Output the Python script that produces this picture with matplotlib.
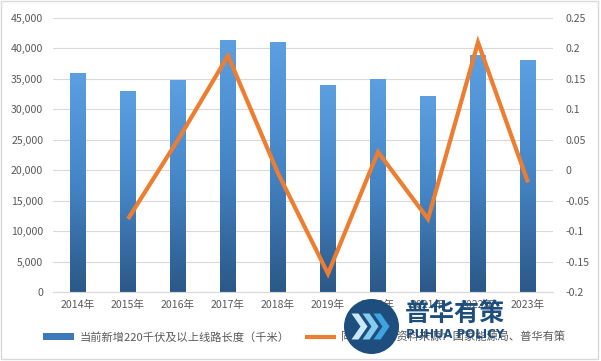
import matplotlib
matplotlib.use('Agg')
import matplotlib.pyplot as plt
import numpy as np
from matplotlib.patches import Circle, Polygon, Rectangle
from matplotlib.colors import LinearSegmentedColormap
from matplotlib.ticker import FuncFormatter, FixedLocator
from matplotlib.lines import Line2D

plt.rcParams['font.family'] = ['Noto Sans CJK SC', 'DejaVu Sans']

years = ['2014年', '2015年', '2016年', '2017年', '2018年',
         '2019年', '2020年', '2021年', '2022年', '2023年']
lengths = [36000, 33000, 34800, 41400, 41000, 34000, 35000, 32200, 39000, 38100]
growth = [np.nan, -0.08, 0.05, 0.188, -0.005, -0.17, 0.03, -0.08, 0.21, -0.02]
bar_label = '当前新增220千伏及以上线路长度（千米）'
line_label = '同比（%）资料来源：国家能源局、普华有策'
left_ticks = [0, 5000, 10000, 15000, 20000, 25000, 30000, 35000, 40000, 45000]
right_ticks = [-0.2, -0.15, -0.1, -0.05, 0, 0.05, 0.1, 0.15, 0.2, 0.25]

W, H = 601, 361
fig = plt.figure(figsize=(W / 100, H / 100), dpi=100)
ax = fig.add_axes([53 / W, 1 - 292 / H, 500 / W, 274 / H])

x = np.arange(len(years))
w = 0.32
cmap = LinearSegmentedColormap.from_list('g', ['#2B5887', '#4585C6', '#5CA0E2'])
grad = np.linspace(0, 1, 256).reshape(-1, 1)
bars = ax.bar(x, lengths, width=w, color='none', edgecolor='none', zorder=2)
for b in bars:
    im = ax.imshow(grad, cmap=cmap, origin='lower', aspect='auto',
                   extent=(b.get_x(), b.get_x() + b.get_width(), 0, b.get_height()),
                   zorder=2, interpolation='bilinear')
    im.set_clip_path(b)

ax.set_xlim(-0.5, len(years) - 0.5)
ax.set_ylim(0, 45000)
ax.set_xticks(x)
ax.set_xticklabels(years)
ax.yaxis.set_major_locator(FixedLocator(left_ticks))
ax.yaxis.set_major_formatter(FuncFormatter(lambda v, p: f'{int(v):,}'))
ax.grid(axis='y', color='#D9D9D9', lw=0.8)
ax.set_axisbelow(True)
for s in ['top', 'right', 'left']:
    ax.spines[s].set_visible(False)
ax.spines['bottom'].set_color('#D9D9D9')
ax.tick_params(axis='both', length=0, labelsize=7.6, colors='#595959')
ax.tick_params(axis='y', pad=7)
ax.tick_params(axis='x', pad=6)

ax2 = ax.twinx()
ln, = ax2.plot(x, growth, color='#ED7D31', lw=3, solid_joinstyle='miter',
               solid_capstyle='butt', zorder=3)
ax2.set_ylim(-0.2, 0.25)
ax2.yaxis.set_major_locator(FixedLocator(right_ticks))
ax2.yaxis.set_major_formatter(FuncFormatter(lambda v, p: f'{round(v, 2):g}'))
for s in ax2.spines.values():
    s.set_visible(False)
ax2.tick_params(axis='y', length=0, labelsize=7.6, colors='#595959', pad=9)

bar_handle = Rectangle((0, 0), 1, 1, facecolor='#3D78B8')
leg = fig.legend([bar_handle, ln], [bar_label, line_label], ncol=2,
                 loc='center', bbox_to_anchor=(304 / W, 1 - 337 / H),
                 frameon=False, fontsize=8.1, handlelength=2.8, handleheight=0.45,
                 handletextpad=0.45, columnspacing=1.35, labelcolor='#595959')

# overlay: border and watermark logo
ov = fig.add_axes([0, 0, 1, 1], zorder=10)
ov.set_xlim(0, W)
ov.set_ylim(H, 0)
ov.axis('off')
ov.patch.set_alpha(0)
ov.add_patch(Rectangle((1, 1), 597, 358, fill=False, edgecolor='#D9D9D9', lw=1))
cx, cy, r = 371.5, 326.5, 27.5
ov.add_patch(Circle((cx, cy), r, facecolor='#1D4E7E', edgecolor='none'))
for i, col in enumerate(['#CBE9FA', '#86CBF0', '#3EA3DE']):
    x0 = cx - 20 + i * 11
    h, a, t = 13, 9, 7
    pts = [(x0, cy - h), (x0 + t, cy - h), (x0 + t + a, cy), (x0 + t, cy + h),
           (x0, cy + h), (x0 + a, cy)]
    ov.add_patch(Polygon(pts, closed=True, facecolor=col, edgecolor='none'))
ov.text(455, 314, '普华有策', ha='center', va='center', fontsize=18,
        fontweight='bold', color='#1D4E7E')
ov.text(455, 334, 'PUHUA POLICY', ha='center', va='center', fontsize=8.5,
        fontweight='bold', color='#1D4E7E', family='DejaVu Sans')

fig.savefig('out.png', dpi=100, facecolor='white')
